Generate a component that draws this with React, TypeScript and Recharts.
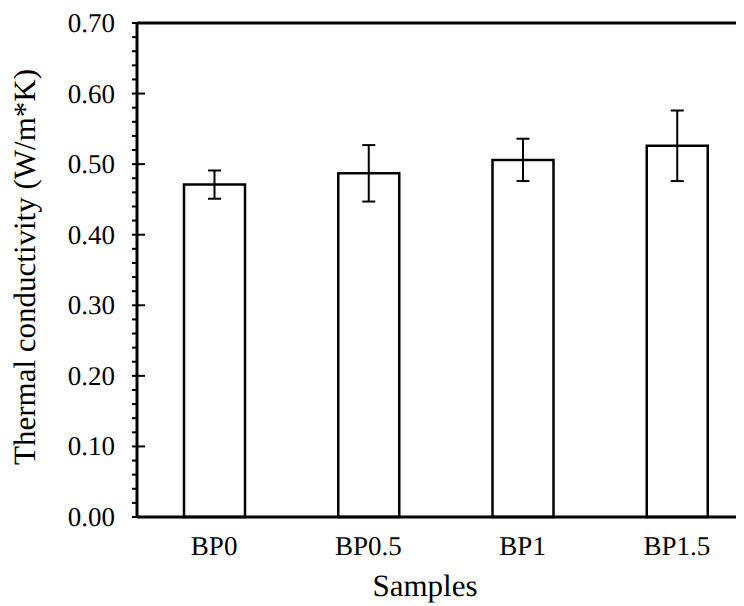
import React from "react";
import { BarChart, Bar, XAxis, YAxis, ErrorBar, ReferenceLine, Label } from "recharts";

const categories = ["BP0", "BP0.5", "BP1", "BP1.5"];
const conductivity = [0.471, 0.487, 0.506, 0.526];
const errors = [0.02, 0.04, 0.03, 0.05];
const majorTicks = [0, 0.1, 0.2, 0.3, 0.4, 0.5, 0.6, 0.7];
const minorTicks = [
  0.02, 0.04, 0.06, 0.08, 0.12, 0.14, 0.16, 0.18, 0.22, 0.24, 0.26, 0.28,
  0.32, 0.34, 0.36, 0.38, 0.42, 0.44, 0.46, 0.48, 0.52, 0.54, 0.56, 0.58,
  0.62, 0.64, 0.66, 0.68,
];

const data = categories.map((c, i) => ({ name: c, value: conductivity[i], err: errors[i] }));
const allTicks = [...majorTicks, ...minorTicks].sort((a, b) => a - b);

const FONT = "Liberation Serif";

const isMajor = (v: number) => majorTicks.some((m) => Math.abs(m - v) < 1e-6);

const renderYTick = (props: any) => {
  const { x, y, payload } = props;
  const v = payload.value;
  if (isMajor(v)) {
    return (
      <g>
        <line x1={x - 5} x2={x + 8} y1={y} y2={y} stroke="#000" strokeWidth={2} />
        <text
          x={x - 22}
          y={Math.round(y + 9)}
          textAnchor="end"
          fontSize={27}
          fill="#000"
          stroke="none"
          fontFamily={FONT}
          textRendering="geometricPrecision"
        >
          {v.toFixed(2)}
        </text>
      </g>
    );
  }
  return <line x1={x - 5} x2={x} y1={y} y2={y} stroke="#000" strokeWidth={2} />;
};

const renderXTick = (props: any) => {
  const { x, y, payload } = props;
  return (
    <text
      x={x}
      y={y + 38}
      textAnchor="middle"
      fontSize={27}
      fill="#000"
      stroke="none"
      fontFamily={FONT}
      textRendering="geometricPrecision"
    >
      {payload.value}
    </text>
  );
};

export default function App() {
  return (
    <div style={{ width: 736, height: 598, overflow: "hidden", fontFamily: FONT }}>
      <BarChart
        width={760}
        height={598}
        data={data}
        margin={{ top: 15, right: 14, bottom: 0, left: 0 }}
        barCategoryGap={0}
      >
        <XAxis
          dataKey="name"
          height={89}
          tickLine={false}
          tickSize={0}
          tickMargin={0}
          axisLine={{ stroke: "#000", strokeWidth: 3 }}
          tick={renderXTick}
          interval={0}
        >
          <Label
            content={() => (
              <text
                x={417}
                y={588}
                textAnchor="middle"
                fontSize={31}
                fill="#000"
                fontFamily={FONT}
                textRendering="geometricPrecision"
              >
                Samples
              </text>
            )}
          />
        </XAxis>
        <YAxis
          width={129}
          domain={[0, 0.7]}
          ticks={allTicks}
          interval={0}
          tickLine={false}
          tickSize={0}
          tickMargin={0}
          axisLine={{ stroke: "#000", strokeWidth: 3 }}
          tick={renderYTick}
        >
          <Label
            content={() => (
              <text
                x={27}
                y={259}
                transform="rotate(-90, 27, 259)"
                textAnchor="middle"
                fontSize={31}
                fill="#000"
                fontFamily={FONT}
                textRendering="geometricPrecision"
              >
                Thermal conductivity (W/m*K)
              </text>
            )}
          />
        </YAxis>
        <ReferenceLine y={0.7} stroke="#000" strokeWidth={3} ifOverflow="visible" />
        <Bar dataKey="value" fill="#fff" stroke="#000" strokeWidth={2.5} barSize={61} isAnimationActive={false}>
          <ErrorBar dataKey="err" direction="y" width={6.5} stroke="#000" strokeWidth={2} />
        </Bar>
      </BarChart>
    </div>
  );
}
